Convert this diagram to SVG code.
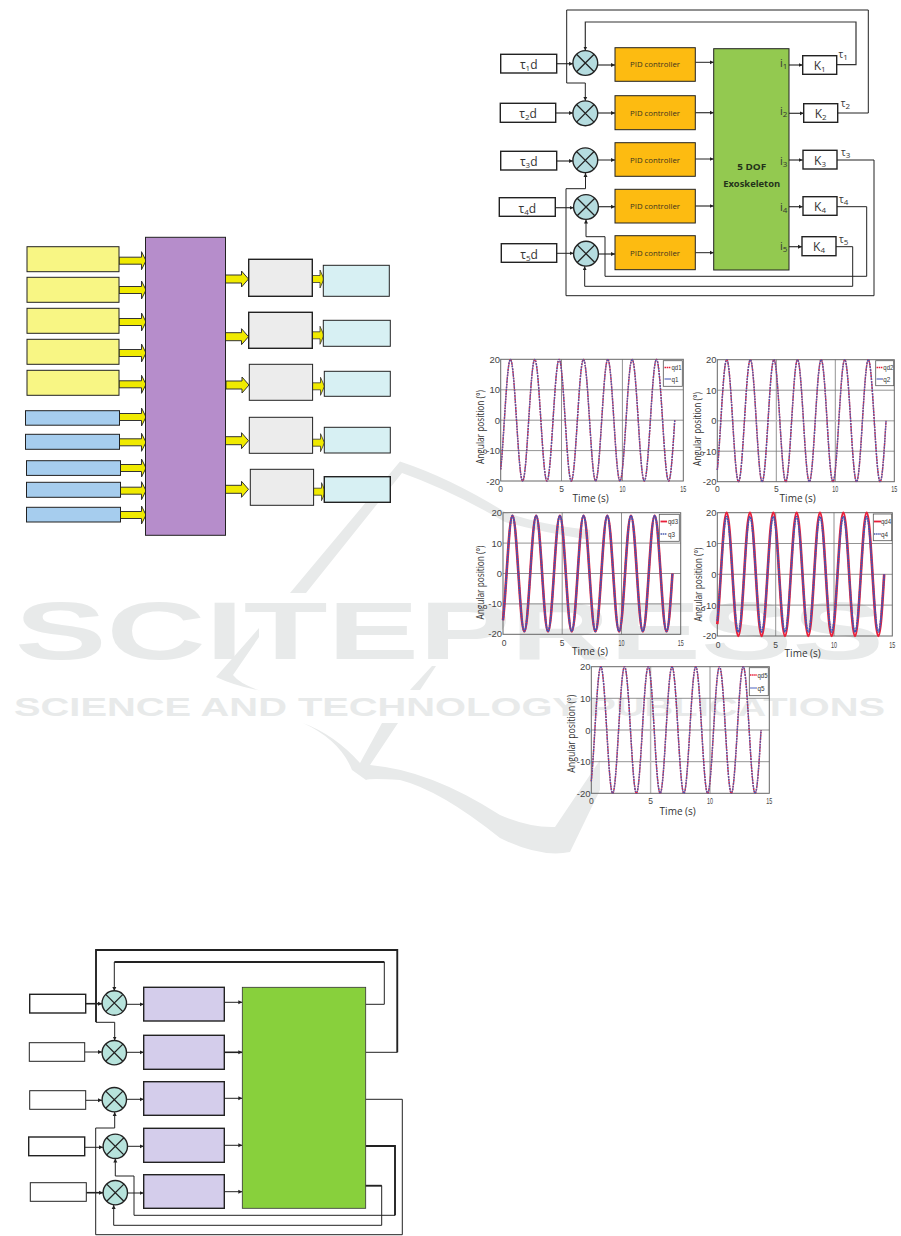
<svg xmlns="http://www.w3.org/2000/svg" xmlns:xlink="http://www.w3.org/1999/xlink" width="901" height="1236" viewBox="0 0 901 1236">
<style>
text{font-family:"Open Sans","DejaVu Sans",sans-serif}
.wm{font-family:"Liberation Sans",sans-serif;font-weight:700;fill:#e8eaea}
.wmk{fill:#e8eaea}
.b{stroke:#222;stroke-width:1}
.y{fill:#f8f684}.bl{fill:#a6cdee}.pu{fill:#b68dcb}.gr{fill:#ececec}.cy{fill:#d7f0f3}.la{fill:#d4cdeb}.gn{fill:#88d03c}.gn2{fill:#93c950}.or{fill:#fdbb11}.wh{fill:#fff}
.hv{stroke-width:1.4}
.ln{fill:none;stroke:#222;stroke-width:1}
.th{fill:none;stroke:#222;stroke-width:1.8}
.ar{fill:none;stroke:#222;stroke-width:1;marker-end:url(#tip)}
.ath{fill:none;stroke:#222;stroke-width:1.6;marker-end:url(#tip)}
.am{fill:none;stroke:#333;stroke-width:1.2;marker-end:url(#tip)}
.c{fill:none;vector-effect:non-scaling-stroke}
.rd{stroke:#e8203a;stroke-width:1.5;stroke-dasharray:2 1}
.rt{stroke:#e8203a;stroke-width:2.6}
.bu{stroke:#4a5cb0;stroke-width:1.3;stroke-dasharray:1.6 .8}
.bu2{stroke:#3f55b5;stroke-width:1.8;stroke-dasharray:2 .6}
.grid{fill:none;stroke:#777;stroke-width:.8}
.frame{fill:none;stroke:#666;stroke-width:1}
.tk{font-family:"Liberation Sans",sans-serif;font-size:9.5px;fill:#444;text-anchor:end}
.tx{font-family:"Liberation Sans",sans-serif;font-size:8.5px;fill:#444;text-anchor:middle}
.lab{font-size:10px;fill:#333;text-anchor:middle}
.lg{font-family:"Liberation Sans",sans-serif;font-size:7.5px;fill:#333}
.lgb{fill:#fff;stroke:#555;stroke-width:.8}
.t1{font-size:12px;fill:#333;text-anchor:middle}
.pid{font-size:7.5px;fill:#3a3320;text-anchor:middle}
.ex{font-size:8.5px;font-weight:700;fill:#24331a;text-anchor:middle}
.i{font-size:11px;fill:#333}
.tau{font-size:10px;fill:#333}
.sub{font-size:8px}
</style>
<defs>
<marker id="tip" markerUnits="userSpaceOnUse" markerWidth="5" markerHeight="5" refX="4" refY="2.5" orient="auto"><path d="M0,0.5L4,2.5L0,4.5Z" fill="#222"/></marker>
<path id="ai" d="M0,-3.5H22.5V-9L27,0L22.5,9V3.5H0Z" fill="#f0ea00" stroke="#333" stroke-width="1"/>
<path id="ao" d="M0,-4H16V-8L23,0L16,8V4H0Z" fill="#f0ea00" stroke="#333" stroke-width="1"/>
<path id="as" d="M0,-3.5H8V-9L12,0L8,9V3.5H0Z" fill="#f0ea00" stroke="#333" stroke-width=".8"/>
<g id="sumA"><circle r="12.2" fill="#b7e3dc" stroke="#222" stroke-width="1.4"/><path d="M-8.6,-8.6L8.6,8.6M-8.6,8.6L8.6,-8.6" stroke="#222" stroke-width="1.3"/></g>
<g id="sumB"><circle r="12.4" fill="#b5dcdf" stroke="#222" stroke-width="1.4"/><path d="M-8.8,-8.8L8.8,8.8M-8.8,8.8L8.8,-8.8" stroke="#222" stroke-width="1.3"/></g>
<path id="sine" class="c" d="M0,-16.18C.1,-12.49 .2,-6.28 .3,0c.163,10.25 .319,20 .5,20c.181,0 .337,-9.75 .5,-20c.163,-10.25 .319,-20 .5,-20c.181,0 .337,9.75 .5,20c.163,10.25 .319,20 .5,20c.181,0 .337,-9.75 .5,-20c.163,-10.25 .319,-20 .5,-20c.181,0 .337,9.75 .5,20c.163,10.25 .319,20 .5,20c.181,0 .337,-9.75 .5,-20c.163,-10.25 .319,-20 .5,-20c.181,0 .337,9.75 .5,20c.163,10.25 .319,20 .5,20c.181,0 .337,-9.75 .5,-20c.163,-10.25 .319,-20 .5,-20c.181,0 .337,9.75 .5,20c.163,10.25 .319,20 .5,20c.181,0 .337,-9.75 .5,-20c.163,-10.25 .319,-20 .5,-20c.181,0 .337,9.75 .5,20c.163,10.25 .319,20 .5,20c.181,0 .337,-9.75 .5,-20c.163,-10.25 .319,-20 .5,-20c.181,0 .337,9.75 .5,20c.163,10.25 .319,20 .5,20c.181,0 .337,-9.75 .5,-20c.163,-10.25 .319,-20 .5,-20c.181,0 .337,9.75 .5,20"/>
</defs>

<g id="watermark">
<text class="wm" x="15" y="659" font-size="81" textLength="869" lengthAdjust="spacingAndGlyphs">SCITEPRESS</text>
<text class="wm" x="14" y="715.5" font-size="26" textLength="871" lengthAdjust="spacingAndGlyphs">SCIENCE AND TECHNOLOGY PUBLICATIONS</text>
<path class="wmk" d="M290,593L400,461.5Q450,478 505,512Q540,525 590,530L590,540Q540,532 505,522Q450,490 402,473L306,593Z"/>
<path class="wmk" d="M259,628V637L233,675Q240,684 260,690.5Q235,686 216,677Z"/>
<path class="wmk" d="M445,645L438,653H443L446,648ZM432,666L410,690H420L436,666Z"/>
<path class="wmk" d="M303,723Q335,735 360,763L382,723H398L370,765Q430,770 500,815Q530,828 555,827L600,760V790L570,852Q540,858 500,838Q440,790 400,780Q370,778 366,780L352,770Q340,740 303,723Z"/>
</g>

<g id="connectors">
<use href="#ai" x="119" y="260.7"/><use href="#ai" x="119" y="290"/><use href="#ai" x="119" y="322"/><use href="#ai" x="119" y="353"/><use href="#ai" x="119" y="384.3"/>
<use href="#ai" x="119" y="417"/><use href="#ai" x="119" y="442.3"/><use href="#ai" x="119" y="468"/><use href="#ai" x="119" y="490.7"/><use href="#ai" x="119" y="515"/>
<use href="#ao" x="225.5" y="279"/><use href="#ao" x="225.5" y="336.7"/><use href="#ao" x="226" y="385"/><use href="#ao" x="225.5" y="440.7"/><use href="#ao" x="225.5" y="489.3"/>
<use href="#as" x="312" y="279"/><use href="#as" x="312" y="335.3"/><use href="#as" x="312.5" y="386.3"/><use href="#as" x="312.5" y="442.7"/><use href="#as" x="313.5" y="491.7"/>

<path class="ath" d="M85.7,1003.7H102"/><path class="ar" d="M84.7,1052H102"/><path class="ar" d="M85.7,1100.3H102"/><path class="ar" d="M84.7,1147.3H103"/><path class="ath" d="M86.3,1192.7H103"/>
<path class="ar" d="M126.7,1004.3H143.7"/><path class="ar" d="M126.7,1052.3H143.7"/><path class="ar" d="M126.7,1099.3H143.7"/><path class="ar" d="M127.7,1146.3H143.7"/><path class="ar" d="M127.7,1193H143.7"/>
<path class="ar" d="M224.3,1002.3H242.3"/><path class="ath" d="M224.3,1052.3H242.3"/><path class="ar" d="M224.3,1098.3H242.3"/><path class="ar" d="M224.3,1145.3H242.3"/><path class="ar" d="M224.3,1191.7H242.3"/>
<path class="ar" d="M365.7,1004.3H384.3V962H114.3V991"/><path class="th" d="M114.5,962H384.3"/>
<path class="ln" d="M365.7,1052.3H397.3V950H96V1022.3H114.7"/><path class="ar" d="M114.7,1022.3V1040.5"/>
<path class="th" d="M96,1022V950H397.3V1052.3"/>
<path class="ar" d="M365.7,1099.3H402.3V1234.7H95.7V1128H114.7V1112"/>
<path class="ln" d="M368,1146H395V1215.3H134V1176H115.3"/><path class="th" d="M365.7,1146H395V1215.3"/><path class="ar" d="M115.3,1176V1158.5"/>
<path class="ar" d="M365,1185.7H381.7V1225.3H113.7V1205"/><path class="th" d="M364.5,1185.7H381.7"/>

<path class="am" d="M556.7,63.7H573"/><path class="am" d="M555.7,113H573"/><path class="am" d="M556.7,161H573"/><path class="am" d="M555.3,207.7H573.6"/><path class="ar" d="M556.7,253.3H573.6"/>
<path class="am" d="M597.7,65H615"/><path class="am" d="M597.7,113H615"/><path class="ar" d="M597.7,160H615"/><path class="am" d="M598.4,206.7H615"/><path class="am" d="M598.4,254H615"/>
<path class="ar" d="M695.3,62.3H713.7"/><path class="am" d="M695.3,112.7H713.7"/><path class="ar" d="M695.3,159H713.7"/><path class="am" d="M695.3,206H713.7"/><path class="ar" d="M695.3,252.7H713.7"/>
<path class="am" d="M789,65H802.7"/><path class="am" d="M789,113.3H803.7"/><path class="am" d="M789,160H802.7"/><path class="am" d="M789,206.7H802.7"/><path class="am" d="M789,246.7H802"/>
<path class="am" d="M836.7,64.7H856V22H585.3V50.5"/>
<path class="ar" d="M837.7,113H868.3V10H566.7V83H585.3V100.8"/>
<path class="ar" d="M836.7,160H874V295.7H566V188.7H585.5V173"/>
<path class="ar" d="M837,206.7H866.7V276.3H605V236.7H586V219.5"/>
<path class="ar" d="M836,246.7H852.7V286.3H584.7V266.2"/>
</g>

<g id="in1"><rect class="y b" x="27" y="246.7" width="92" height="25"/></g>
<g id="in2"><rect class="y b" x="27" y="277.3" width="92" height="25"/></g>
<g id="in3"><rect class="y b" x="27" y="308.3" width="92" height="25"/></g>
<g id="in4"><rect class="y b" x="27" y="339.3" width="92" height="25"/></g>
<g id="in5"><rect class="y b" x="27" y="370.3" width="92" height="25"/></g>
<g id="in6"><rect class="bl b" x="25.5" y="410.7" width="94" height="14.5"/></g>
<g id="in7"><rect class="bl b" x="25.5" y="434.3" width="94" height="15"/></g>
<g id="in8"><rect class="bl b" x="26.5" y="460.7" width="94" height="14.7"/></g>
<g id="in9"><rect class="bl b" x="26.5" y="482.3" width="94" height="15"/></g>
<g id="in10"><rect class="bl b" x="26.5" y="507.3" width="94" height="14.7"/></g>
<g id="hub"><rect class="pu b" x="145.5" y="237.3" width="80" height="298"/></g>
<g id="mid1"><rect class="gr b hv" x="248.7" y="259.3" width="63.6" height="37"/></g>
<g id="mid2"><rect class="gr b hv" x="248.7" y="312.3" width="63.6" height="36"/></g>
<g id="mid3"><rect class="gr b" x="249.3" y="364.3" width="63.3" height="36"/></g>
<g id="mid4"><rect class="gr b" x="249.3" y="417.3" width="63.3" height="36"/></g>
<g id="mid5"><rect class="gr b" x="250.3" y="469.3" width="63.3" height="36"/></g>
<g id="out1"><rect class="cy b" x="323.3" y="265.3" width="66" height="31"/></g>
<g id="out2"><rect class="cy b" x="323.3" y="320.3" width="67" height="26"/></g>
<g id="out3"><rect class="cy b" x="324.3" y="371.3" width="66" height="25"/></g>
<g id="out4"><rect class="cy b" x="324.3" y="427.3" width="66" height="25.7"/></g>
<g id="out5"><rect class="cy b hv" x="324.3" y="476.7" width="66" height="25.6"/></g>

<g id="l-ref1"><rect class="wh b hv" x="29.7" y="994.3" width="56" height="18.7"/></g>
<g id="l-ref2"><rect class="wh b" x="29.3" y="1042.7" width="55.4" height="18.6"/></g>
<g id="l-ref3"><rect class="wh b" x="29.7" y="1090.7" width="56" height="18.6"/></g>
<g id="l-ref4"><rect class="wh b hv" x="28.7" y="1137" width="56" height="18.7"/></g>
<g id="l-ref5"><rect class="wh b" x="30.3" y="1182.7" width="56" height="18.6"/></g>
<g id="l-sum1"><use href="#sumA" x="114.3" y="1003"/></g>
<g id="l-sum2"><use href="#sumA" x="114.3" y="1052.7"/></g>
<g id="l-sum3"><use href="#sumA" x="114.3" y="1099.7"/></g>
<g id="l-sum4"><use href="#sumA" x="115.3" y="1146.3"/></g>
<g id="l-sum5"><use href="#sumA" x="115.3" y="1192.7"/></g>
<g id="l-c1"><rect class="la b hv" x="143.7" y="987.3" width="80.6" height="33.7"/></g>
<g id="l-c2"><rect class="la b hv" x="143.7" y="1035.3" width="80.6" height="34"/></g>
<g id="l-c3"><rect class="la b hv" x="143.7" y="1081.7" width="80.6" height="33.6"/></g>
<g id="l-c4"><rect class="la b hv" x="143.7" y="1128.3" width="80.6" height="34"/></g>
<g id="l-c5"><rect class="la b hv" x="143.7" y="1174.7" width="80.6" height="33.6"/></g>
<g id="l-plant"><rect class="gn" x="242.3" y="987.3" width="123.4" height="221" stroke="#333" stroke-width=".8"/></g>

<g id="r-ref1"><rect class="wh b hv" x="500.7" y="54.3" width="56" height="18.7"/><text class="t1" x="528.7" y="69">τ<tspan class="sub" dy="2">1</tspan><tspan dy="-2">d</tspan></text></g>
<g id="r-ref2"><rect class="wh b hv" x="500.3" y="103.3" width="55.4" height="19"/><text class="t1" x="528" y="118">τ<tspan class="sub" dy="2">2</tspan><tspan dy="-2">d</tspan></text></g>
<g id="r-ref3"><rect class="wh b hv" x="500.7" y="151.3" width="56" height="18.7"/><text class="t1" x="528.7" y="166">τ<tspan class="sub" dy="2">3</tspan><tspan dy="-2">d</tspan></text></g>
<g id="r-ref4"><rect class="wh b hv" x="499.3" y="197.7" width="56" height="18.6"/><text class="t1" x="527.3" y="212.5">τ<tspan class="sub" dy="2">4</tspan><tspan dy="-2">d</tspan></text></g>
<g id="r-ref5"><rect class="wh b hv" x="501.3" y="243.7" width="55.4" height="18.6"/><text class="t1" x="529" y="258.5">τ<tspan class="sub" dy="2">5</tspan><tspan dy="-2">d</tspan></text></g>
<g id="r-sum1"><use href="#sumB" x="585.3" y="63"/></g>
<g id="r-sum2"><use href="#sumB" x="585.3" y="113.3"/></g>
<g id="r-sum3"><use href="#sumB" x="585.3" y="160.3"/></g>
<g id="r-sum4"><use href="#sumB" x="586" y="207"/></g>
<g id="r-sum5"><use href="#sumB" x="586" y="253.7"/></g>
<g id="r-pid1"><rect class="or b" x="615" y="47.7" width="80.3" height="33.6"/><text class="pid" x="655" y="67" textLength="50" lengthAdjust="spacingAndGlyphs">PID controller</text></g>
<g id="r-pid2"><rect class="or b" x="615" y="95.7" width="80.3" height="34"/><text class="pid" x="655" y="115.5" textLength="50" lengthAdjust="spacingAndGlyphs">PID controller</text></g>
<g id="r-pid3"><rect class="or b" x="615" y="142.7" width="80.3" height="33.6"/><text class="pid" x="655" y="162.5" textLength="50" lengthAdjust="spacingAndGlyphs">PID controller</text></g>
<g id="r-pid4"><rect class="or b" x="615" y="189.3" width="80.3" height="33.7"/><text class="pid" x="655" y="209" textLength="50" lengthAdjust="spacingAndGlyphs">PID controller</text></g>
<g id="r-pid5"><rect class="or b" x="615" y="235.7" width="80.3" height="34"/><text class="pid" x="655" y="255.5" textLength="50" lengthAdjust="spacingAndGlyphs">PID controller</text></g>
<g id="r-plant"><rect class="gn2 b" x="713.7" y="48.7" width="75.3" height="221.3"/>
<text class="ex" x="751.7" y="170" textLength="29" lengthAdjust="spacingAndGlyphs">5 DOF</text><text class="ex" x="751.7" y="186.7" textLength="57" lengthAdjust="spacingAndGlyphs">Exoskeleton</text>
<text class="i" x="780" y="67">i<tspan class="sub" dy="2">1</tspan></text><text class="i" x="780" y="115">i<tspan class="sub" dy="2">2</tspan></text><text class="i" x="780" y="165">i<tspan class="sub" dy="2">3</tspan></text><text class="i" x="780" y="211">i<tspan class="sub" dy="2">4</tspan></text><text class="i" x="780" y="250">i<tspan class="sub" dy="2">5</tspan></text></g>
<g id="r-k1"><rect class="wh b hv" x="802.7" y="55.7" width="34" height="18.6"/><text class="t1" x="819.7" y="70">K<tspan class="sub" dy="2">1</tspan></text><text class="tau" x="838.5" y="58">τ<tspan class="sub" dy="2">1</tspan></text></g>
<g id="r-k2"><rect class="wh b hv" x="803.7" y="103.7" width="34" height="18.6"/><text class="t1" x="820.7" y="118">K<tspan class="sub" dy="2">2</tspan></text><text class="tau" x="840.7" y="107">τ<tspan class="sub" dy="2">2</tspan></text></g>
<g id="r-k3"><rect class="wh b hv" x="803" y="150.3" width="34" height="18.7"/><text class="t1" x="820" y="165">K<tspan class="sub" dy="2">3</tspan></text><text class="tau" x="841" y="156">τ<tspan class="sub" dy="2">3</tspan></text></g>
<g id="r-k4"><rect class="wh b hv" x="803" y="196.7" width="34" height="18.6"/><text class="t1" x="820" y="211">K<tspan class="sub" dy="2">4</tspan></text><text class="tau" x="839" y="203">τ<tspan class="sub" dy="2">4</tspan></text></g>
<g id="r-k5"><rect class="wh b hv" x="802" y="236.7" width="34" height="19"/><text class="t1" x="819" y="251">K<tspan class="sub" dy="2">4</tspan></text><text class="tau" x="839" y="243">τ<tspan class="sub" dy="2">5</tspan></text></g>

<g id="plot1">
<path class="grid" d="M500.7,389.8H683.3M500.7,420.2H683.3M500.7,450.6H683.3M561.5,359.3V481M622.4,359.3V481"/><rect class="frame" x="500.7" y="359.3" width="182.6" height="121.7"/>
<use href="#sine" class="rd" transform="translate(500.7 420.2) scale(12.17 -3.04)"/><use href="#sine" class="bu" transform="translate(500.7 420.2) scale(12.17 -3.04)"/>
<text class="tk" x="500" y="362.8">20</text><text class="tk" x="500" y="393.3">10</text><text class="tk" x="500" y="423.7">0</text><text class="tk" x="500" y="454.1">-10</text><text class="tk" x="500" y="484.5">-20</text>
<text class="tx" x="500.7" y="492">0</text><text class="tx" x="561.5" y="492">5</text><text class="tx" x="622.4" y="492" textLength="6" lengthAdjust="spacingAndGlyphs">10</text><text class="tx" x="683.3" y="492" textLength="6" lengthAdjust="spacingAndGlyphs">15</text>
<text class="lab" x="590.7" y="502">Time (s)</text><text class="lab" font-size="9" textLength="74" lengthAdjust="spacingAndGlyphs" transform="translate(484 427) rotate(-90)">Angular position (°)</text>
<rect class="lgb" x="663.3" y="360.7" width="19" height="25.6"/><path d="M664.5,367.5H671" stroke="#e8203a" stroke-width="1.4" stroke-dasharray="1.5 .6"/><path d="M664.5,379H671" stroke="#6f7fc8" stroke-width="1.4"/><text class="lg" x="671.5" y="370" textLength="10" lengthAdjust="spacingAndGlyphs">qd1</text><text class="lg" x="671.5" y="381.5" textLength="7" lengthAdjust="spacingAndGlyphs">q1</text>
</g>
<g id="plot2">
<path class="grid" d="M717.3,390.2H894.3M717.3,451.2H894.3M776.3,359.7V481.7M835.3,359.7V481.7"/><path d="M717.3,420.7H894.3" fill="none" stroke="#bbb" stroke-width="1.6"/><rect class="frame" x="717.3" y="359.7" width="177" height="122"/>
<use href="#sine" class="rd" transform="translate(717.3 420.7) scale(11.8 -3.05)"/><use href="#sine" class="bu" transform="translate(717.3 420.7) scale(11.8 -3.05)"/>
<text class="tk" x="716.5" y="363.2">20</text><text class="tk" x="716.5" y="393.7">10</text><text class="tk" x="716.5" y="424.2">0</text><text class="tk" x="716.5" y="454.7">-10</text><text class="tk" x="716.5" y="485.2">-20</text>
<text class="tx" x="717.3" y="492">0</text><text class="tx" x="776.3" y="492">5</text><text class="tx" x="835.3" y="492" textLength="6" lengthAdjust="spacingAndGlyphs">10</text><text class="tx" x="894.3" y="492" textLength="6" lengthAdjust="spacingAndGlyphs">15</text>
<text class="lab" x="797.7" y="502">Time (s)</text><text class="lab" font-size="9" textLength="74" lengthAdjust="spacingAndGlyphs" transform="translate(701 429) rotate(-90)">Angular position (°)</text>
<rect class="lgb" x="875.7" y="360.7" width="18" height="25"/><path d="M876.5,367.5H883" stroke="#e8203a" stroke-width="1.4" stroke-dasharray="1.5 .6"/><path d="M876.5,379H883" stroke="#6f7fc8" stroke-width="1.4"/><text class="lg" x="883.3" y="370" textLength="10" lengthAdjust="spacingAndGlyphs">qd2</text><text class="lg" x="883.3" y="381.5" textLength="7" lengthAdjust="spacingAndGlyphs">q2</text>
</g>
<g id="plot3">
<path class="grid" d="M503,543.1H680.7M503,573.5H680.7M503,603.9H680.7M562.2,512.7V634.3M621.5,512.7V634.3"/><rect class="frame" x="503" y="512.7" width="177.7" height="121.6"/>
<use href="#sine" class="rt" transform="translate(503 573.5) scale(11.85 -2.89)"/><use href="#sine" class="bu2" transform="translate(503 573.5) scale(11.85 -2.89)"/>
<text class="tk" x="502" y="516.2">20</text><text class="tk" x="502" y="546.6">10</text><text class="tk" x="502" y="577">0</text><text class="tk" x="502" y="607.4">-10</text><text class="tk" x="502" y="637.4">-20</text>
<text class="tx" x="504" y="646">0</text><text class="tx" x="562.2" y="646">5</text><text class="tx" x="621.5" y="646" textLength="6" lengthAdjust="spacingAndGlyphs">10</text><text class="tx" x="680.7" y="646" textLength="6" lengthAdjust="spacingAndGlyphs">15</text>
<text class="lab" x="590" y="655">Time (s)</text><text class="lab" font-size="9" textLength="74" lengthAdjust="spacingAndGlyphs" transform="translate(484 582.5) rotate(-90)">Angular position (°)</text>
<rect class="lgb" x="659.3" y="514.3" width="20" height="27"/><path d="M660.5,521.5H667" stroke="#e8203a" stroke-width="1.8"/><path d="M660.5,534H667" stroke="#4a5cb0" stroke-width="1.6" stroke-dasharray="1.5 .6"/><text class="lg" x="668" y="524" textLength="10" lengthAdjust="spacingAndGlyphs">qd3</text><text class="lg" x="668" y="536.5" textLength="7" lengthAdjust="spacingAndGlyphs">q3</text>
</g>
<g id="plot4">
<path class="grid" d="M717.3,543.5H892.3M717.3,574.3H892.3M717.3,605.1H892.3M775.7,512.7V636M834,512.7V636"/><rect class="frame" x="717.3" y="512.7" width="175" height="123.3"/>
<use href="#sine" class="rt" transform="translate(717.3 574.3) scale(11.67 -3.08)"/><use href="#sine" class="bu2" transform="translate(717.3 574.3) scale(11.67 -2.88)"/>
<text class="tk" x="716.5" y="516.2">20</text><text class="tk" x="716.5" y="547">10</text><text class="tk" x="716.5" y="577.8">0</text><text class="tk" x="716.5" y="608.6">-10</text><text class="tk" x="716.5" y="639">-20</text>
<text class="tx" x="718" y="648">0</text><text class="tx" x="775.7" y="648">5</text><text class="tx" x="834" y="648" textLength="6" lengthAdjust="spacingAndGlyphs">10</text><text class="tx" x="892.3" y="648" textLength="6" lengthAdjust="spacingAndGlyphs">15</text>
<text class="lab" x="802.7" y="657">Time (s)</text><text class="lab" font-size="9" textLength="74" lengthAdjust="spacingAndGlyphs" transform="translate(702 584.5) rotate(-90)">Angular position (°)</text>
<rect class="lgb" x="873.3" y="514" width="18.4" height="26.7"/><path d="M874,521.5H881" stroke="#e8203a" stroke-width="1.8"/><path d="M874,534H881" stroke="#4a5cb0" stroke-width="1.6" stroke-dasharray="1.5 .6"/><text class="lg" x="881" y="524" textLength="10" lengthAdjust="spacingAndGlyphs">qd4</text><text class="lg" x="881" y="536.5" textLength="7" lengthAdjust="spacingAndGlyphs">q4</text>
</g>
<g id="plot5">
<path class="grid" d="M591.3,698.3H769.3M591.3,730H769.3M591.3,761.7H769.3M710,666.7V793.3"/><path d="M650.6,666.7V793.3" fill="none" stroke="#bbb" stroke-width="1.4"/><rect class="frame" x="591.3" y="666.7" width="178" height="126.6"/>
<use href="#sine" class="rd" transform="translate(591.3 730) scale(11.87 -3.165)"/><use href="#sine" class="bu" transform="translate(591.3 730) scale(11.87 -3.165)"/>
<text class="tk" x="590.5" y="670.2">20</text><text class="tk" x="590.5" y="701.8">10</text><text class="tk" x="590.5" y="733.5">0</text><text class="tk" x="590.5" y="765.2">-10</text><text class="tk" x="590.5" y="796.8">-20</text>
<text class="tx" x="591.3" y="804">0</text><text class="tx" x="650.6" y="804">5</text><text class="tx" x="710" y="804" textLength="6" lengthAdjust="spacingAndGlyphs">10</text><text class="tx" x="769.3" y="804" textLength="6" lengthAdjust="spacingAndGlyphs">15</text>
<text class="lab" x="677.7" y="815">Time (s)</text><text class="lab" font-size="9" textLength="78" lengthAdjust="spacingAndGlyphs" transform="translate(575 733.7) rotate(-90)">Angular position (°)</text>
<rect class="lgb" x="749.3" y="667.7" width="19" height="28"/><path d="M750,675H757" stroke="#e8203a" stroke-width="1.4" stroke-dasharray="1.5 .6"/><path d="M750,688H757" stroke="#7f90d0" stroke-width="1.4"/><text class="lg" x="757.5" y="677.5" textLength="10" lengthAdjust="spacingAndGlyphs">qd5</text><text class="lg" x="757.5" y="690.5" textLength="7" lengthAdjust="spacingAndGlyphs">q5</text>
</g>
</svg>
